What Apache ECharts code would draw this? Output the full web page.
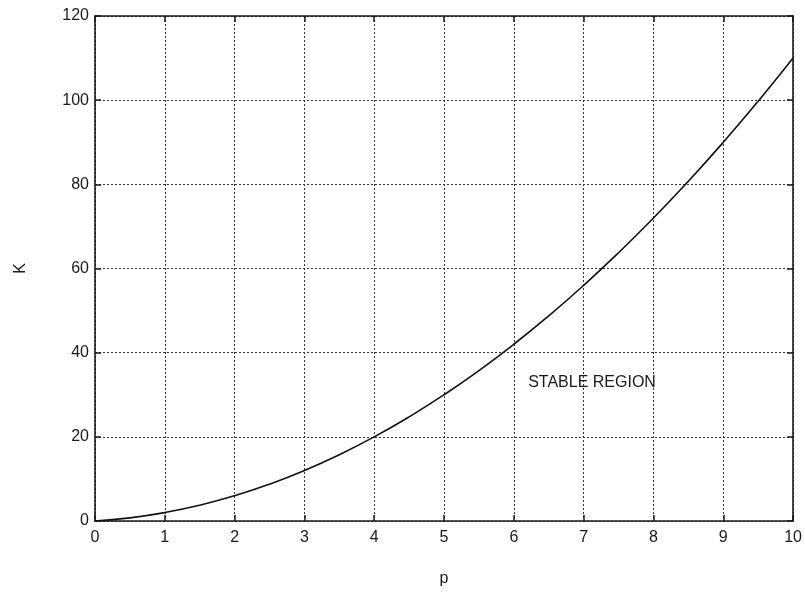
<!DOCTYPE html>
<html>
<head>
<meta charset="utf-8">
<script src="https://cdn.jsdelivr.net/npm/echarts@6/dist/echarts.min.js"></script>
<style>
  html, body { margin: 0; padding: 0; background: #fff; }
  #chart { width: 805px; height: 592px; }
</style>
</head>
<body>
<div id="chart"></div>
<script>
// values
const pValues = [0, 0.5, 1, 1.5, 2, 2.5, 3, 3.5, 4, 4.5, 5, 5.5, 6, 6.5, 7, 7.5, 8, 8.5, 9, 9.5, 10];
const kValues = [0, 0.75, 2, 3.75, 6, 8.75, 12, 15.75, 20, 24.75, 30, 35.75, 42, 48.75, 56, 63.75, 72, 80.75, 90, 99.75, 110];
const regionLabel = 'STABLE REGION';
const regionAt = [7.12, 33];

const font = 'Liberation Sans, Arial, sans-serif';
const ink = '#1a1a1a';

const chart = echarts.init(document.getElementById('chart'));

const axisLine = { show: true, onZero: false, lineStyle: { color: ink, width: 1.6 } };
const tickIn = { show: true, inside: true, length: 6, lineStyle: { color: ink, width: 1.5 } };
const dotted = { show: true, lineStyle: { color: '#333', type: [2, 2], width: 1 } };
const tickFont = { fontFamily: font, fontSize: 16, color: ink };

chart.setOption({
  animation: false,
  grid: { left: 95, right: 11, top: 16, bottom: 70 },
  xAxis: [
    {
      type: 'value', min: 0, max: 10, interval: 1,
      name: 'p', nameLocation: 'middle', nameGap: 50,
      nameTextStyle: tickFont,
      axisLine, axisTick: tickIn, splitLine: dotted,
      axisLabel: { ...tickFont, margin: 9 }
    },
    {
      type: 'value', position: 'top', min: 0, max: 10, interval: 1,
      axisLine, axisTick: tickIn, splitLine: { show: false }, axisLabel: { show: false }
    }
  ],
  yAxis: [
    {
      type: 'value', min: 0, max: 120, interval: 20,
      name: 'K', nameLocation: 'middle', nameGap: 66, nameRotate: 90,
      nameTextStyle: tickFont,
      axisLine, axisTick: tickIn, splitLine: dotted,
      axisLabel: { ...tickFont, margin: 6 }
    },
    {
      type: 'value', position: 'right', min: 0, max: 120, interval: 20,
      axisLine, axisTick: tickIn, splitLine: { show: false }, axisLabel: { show: false }
    }
  ],
  series: [
    {
      type: 'line',
      data: pValues.map((p, i) => [p, kValues[i]]),
      showSymbol: false,
      smooth: true,
      lineStyle: { color: '#111', width: 1.6 }
    },
    {
      type: 'scatter',
      data: [regionAt],
      symbolSize: 0,
      silent: true,
      itemStyle: { color: ink, opacity: 1 },
      label: {
        show: true, position: 'inside', formatter: regionLabel,
        fontFamily: font, fontSize: 16, color: ink, opacity: 1
      }
    }
  ]
});
</script>
</body>
</html>
